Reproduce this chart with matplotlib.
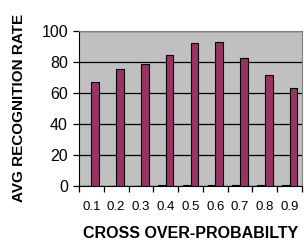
import matplotlib
matplotlib.use("Agg")
import matplotlib.pyplot as plt
import numpy as np

categories = ["0.1", "0.2", "0.3", "0.4", "0.5", "0.6", "0.7", "0.8", "0.9"]
prob_values = [0.1, 0.2, 0.3, 0.4, 0.5, 0.6, 0.7, 0.8, 0.9]
recognition_rate = [67.3, 75.5, 78.9, 84.5, 92.0, 92.9, 82.8, 71.4, 63.2]
yticks = [0, 20, 40, 60, 80, 100]

font = "Liberation Sans"

fig = plt.figure(figsize=(3.04, 2.48), dpi=100)
ax = fig.add_axes([79/304, 62/248, 223/304, 155/248])
ax.set_facecolor("#C0C0C0")

x = np.arange(len(categories))
w = 0.31
ax.bar(x - w/2, prob_values, width=w, color="#9999FF", edgecolor="black", linewidth=0.8, zorder=3)
ax.bar(x + w/2, recognition_rate, width=w, color="#993366", edgecolor="black", linewidth=0.8, zorder=3)

ax.set_xlim(-0.5, len(categories) - 0.5)
ax.set_ylim(0, 100)
ax.set_yticks(yticks)
ax.set_yticklabels([str(v) for v in yticks], fontfamily=font, fontsize=11.5)
ax.yaxis.grid(True, color="black", linewidth=0.9, zorder=1)
ax.set_axisbelow(True)

ax.set_xticks(np.arange(-0.5, len(categories), 1.0))
ax.set_xticklabels([])
ax.set_xticks(x, minor=True)
ax.set_xticklabels(categories, minor=True, fontfamily=font, fontsize=9.5)
ax.tick_params(axis="x", which="minor", length=0, pad=11)
ax.tick_params(axis="x", which="major", length=4, width=0.9, direction="out", color="black")
ax.tick_params(axis="y", length=4, width=0.9, direction="out", pad=4, color="black")

for s in ["top", "right"]:
    ax.spines[s].set_color("#808080")
    ax.spines[s].set_linewidth(0.8)
ax.spines["left"].set_color("black")
ax.spines["bottom"].set_color("black")

fig.text(19/304, (248-202)/248, "AVG RECOGNITION RATE", rotation=90, ha="center", va="bottom",
         fontfamily=font, fontweight="bold", fontsize=11)
fig.text(191/304, (248-233)/248, "CROSS OVER-PROBABILTY", ha="center", va="center",
         fontfamily=font, fontweight="bold", fontsize=11.5)

fig.savefig("out.png", dpi=100)
